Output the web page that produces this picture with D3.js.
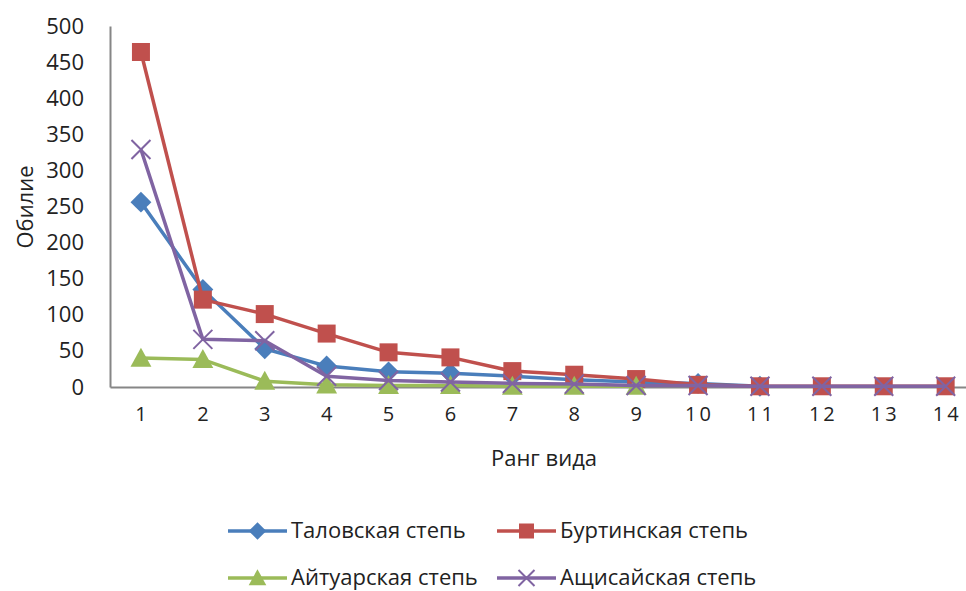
<!DOCTYPE html>
<html>
<head>
<meta charset="utf-8">
<script src="https://cdn.jsdelivr.net/npm/d3@7"></script>
<style>
  html, body { margin: 0; padding: 0; background: #fff; }
  svg text { font-family: "Open Sans", "Noto Sans", sans-serif; fill: #222; }
</style>
</head>
<body>
<svg id="chart" width="966" height="591"></svg>
<script>
// Species rank (x categories)
const ranks = ["1","2","3","4","5","6","7","8","9","10","11","12","13","14"];
const yTicks = [0, 50, 100, 150, 200, 250, 300, 350, 400, 450, 500];

// Abundance by rank for each steppe
const talovskaya  = [256, 135, 53, 29, 21, 19, 15, 10, 7, 5, 1];
const burtinskaya = [464, 121, 101, 74, 48, 41, 22, 17, 11, 3, 1, 1, 1, 1];
const aytuarskaya = [40, 38, 8, 3, 2, 2, 1, 1, 1];
const ashchisayskaya = [329, 66, 64, 15, 9, 7, 5, 4, 2, 2, 1, 1, 1, 1];

const seriesNames = ["Таловская степь", "Буртинская степь", "Айтуарская степь", "Ащисайская степь"];

const series = [
  { name: seriesNames[0], values: talovskaya,     color: "#4A7EBB", marker: "diamond" },
  { name: seriesNames[1], values: burtinskaya,    color: "#C0504D", marker: "square" },
  { name: seriesNames[2], values: aytuarskaya,    color: "#9BBB59", marker: "triangle" },
  { name: seriesNames[3], values: ashchisayskaya, color: "#8064A2", marker: "cross" }
];

const svg = d3.select("#chart");
const plotLeft = 110, plotTop = 26, plotBottom = 387;
const band = 61.9;

const x = d3.scaleBand().domain(ranks).range([plotLeft, plotLeft + band * ranks.length]).paddingInner(0).paddingOuter(0);
const y = d3.scaleLinear().domain([0, 500]).range([plotBottom, plotTop]);

// Axes
const xAxis = svg.append("g").attr("transform", `translate(0,${plotBottom})`)
  .call(d3.axisBottom(x).tickSize(0).tickPadding(20));
xAxis.select(".domain").attr("stroke", "#868686").attr("stroke-width", 2);
xAxis.selectAll("text").attr("font-size", 20).attr("letter-spacing", "3px").attr("fill", "#222")
  .attr("dx", "1.5px");

const yAxis = svg.append("g").attr("transform", `translate(${plotLeft},0)`)
  .call(d3.axisLeft(y).tickValues(yTicks).tickSize(0).tickPadding(26));
yAxis.select(".domain").attr("stroke", "#868686").attr("stroke-width", 2);
yAxis.selectAll("text").attr("font-size", 22).attr("fill", "#222");

// Axis titles
svg.append("text").attr("x", 544).attr("y", 466).attr("text-anchor", "middle")
  .attr("font-size", 22).text("Ранг вида");
svg.append("text").attr("transform", "translate(33,207) rotate(-90)").attr("text-anchor", "middle")
  .attr("font-size", 22).text("Обилие");

// Marker drawing
function drawMarker(g, type, color, cx, cy, s) {
  if (type === "diamond") {
    g.append("path").attr("d", `M${cx},${cy - s * 0.55}L${cx + s * 0.55},${cy}L${cx},${cy + s * 0.55}L${cx - s * 0.55},${cy}Z`)
      .attr("fill", color);
  } else if (type === "square") {
    g.append("rect").attr("x", cx - s / 2).attr("y", cy - s / 2).attr("width", s).attr("height", s).attr("fill", color);
  } else if (type === "triangle") {
    g.append("path").attr("d", `M${cx},${cy - s * 0.55}L${cx + s * 0.55},${cy + s * 0.45}L${cx - s * 0.55},${cy + s * 0.45}Z`)
      .attr("fill", color);
  } else if (type === "cross") {
    const h = s * 0.5;
    g.append("path").attr("d", `M${cx - h},${cy - h}L${cx + h},${cy + h}M${cx - h},${cy + h}L${cx + h},${cy - h}`)
      .attr("stroke", color).attr("stroke-width", 2).attr("fill", "none");
  }
}

const line = d3.line().x((d, i) => x(ranks[i]) + x.bandwidth() / 2).y(d => y(d));

series.forEach(s => {
  const g = svg.append("g");
  g.append("path").datum(s.values).attr("d", line)
    .attr("fill", "none").attr("stroke", s.color).attr("stroke-width", 3.5).attr("stroke-linejoin", "round");
  s.values.forEach((v, i) => {
    drawMarker(g, s.marker, s.color, x(ranks[i]) + x.bandwidth() / 2, y(v), s.marker === "square" ? 18 : 19);
  });
});

// Legend
const legendItems = [
  { s: series[0], lx: 228, ly: 531 },
  { s: series[1], lx: 497, ly: 531 },
  { s: series[2], lx: 228, ly: 578 },
  { s: series[3], lx: 497, ly: 578 }
];
legendItems.forEach(it => {
  const g = svg.append("g");
  g.append("line").attr("x1", it.lx).attr("x2", it.lx + 59).attr("y1", it.ly).attr("y2", it.ly)
    .attr("stroke", it.s.color).attr("stroke-width", 3.5);
  drawMarker(g, it.s.marker, it.s.color, it.lx + 29.5, it.ly, it.s.marker === "square" ? 15 : 16);
  g.append("text").attr("x", it.lx + 63).attr("y", it.ly + 7).attr("font-size", 22).text(it.s.name);
});
</script>
</body>
</html>
